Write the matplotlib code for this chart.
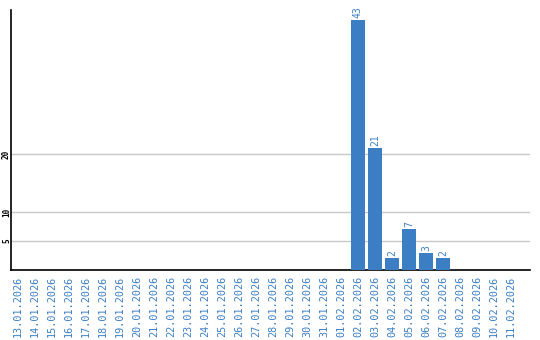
import matplotlib
matplotlib.use("Agg")
import matplotlib.pyplot as plt

dates = ["13.01.2026", "14.01.2026", "15.01.2026", "16.01.2026", "17.01.2026",
         "18.01.2026", "19.01.2026", "20.01.2026", "21.01.2026", "22.01.2026",
         "23.01.2026", "24.01.2026", "25.01.2026", "26.01.2026", "27.01.2026",
         "28.01.2026", "29.01.2026", "30.01.2026", "31.01.2026", "01.02.2026",
         "02.02.2026", "03.02.2026", "04.02.2026", "05.02.2026", "06.02.2026",
         "07.02.2026", "08.02.2026", "09.02.2026", "10.02.2026", "11.02.2026"]
values = [0, 0, 0, 0, 0, 0, 0, 0, 0, 0,
          0, 0, 0, 0, 0, 0, 0, 0, 0, 0,
          43, 21, 2, 7, 3, 2, 0, 0, 0, 0]
yticks = [5, 10, 20]

blue = "#3b7ec4"
mono = "DejaVu Sans Mono"

fig = plt.figure(figsize=(5.4, 3.4), dpi=100)
ax = fig.add_axes([11/540, 1-270/340, (530-11)/540, (270-10)/340])

x = list(range(len(dates)))
ax.bar(x, values, width=0.82, color=blue, zorder=3)
for xi, v in zip(x, values):
    if v > 0:
        ax.text(xi, v + 0.35, str(v), rotation=90, ha="center", va="bottom",
                color=blue, fontsize=7, family=mono, zorder=4)

ax.set_xlim(-0.41, 30.12)
ax.set_ylim(0, 44.8)
ax.set_xticks(x)
ax.set_xticklabels(dates, rotation=90, color=blue, fontsize=7.3, family=mono)
ax.set_yticks(yticks)
ax.set_yticklabels([str(t) for t in yticks], rotation=90, va="center",
                   fontsize=5.5, family=mono, fontweight="bold")
ax.tick_params(axis="both", length=0)
ax.tick_params(axis="x", pad=4)
ax.tick_params(axis="y", pad=0)
ax.grid(axis="y", color="#c8c8c8", linewidth=1.0, zorder=0)
for s in ["top", "right"]:
    ax.spines[s].set_visible(False)
for s in ["left", "bottom"]:
    ax.spines[s].set_color("black")
    ax.spines[s].set_linewidth(1.2)

fig.savefig("out.png", dpi=100)
